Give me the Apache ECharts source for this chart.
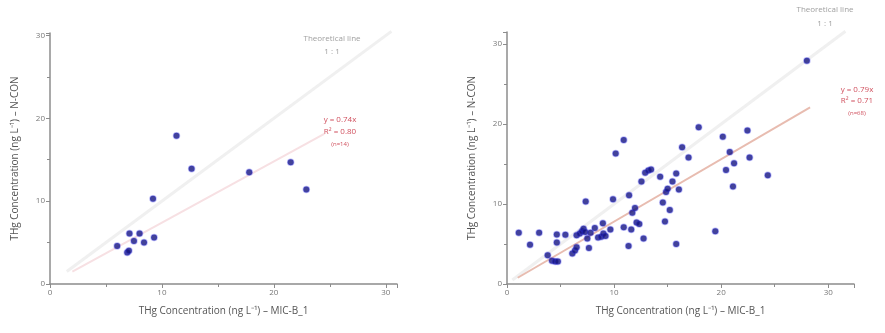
<!DOCTYPE html>
<html><head><meta charset="utf-8">
<script src="https://cdn.jsdelivr.net/npm/echarts@6/dist/echarts.min.js"></script>
<style>html,body{margin:0;padding:0;background:#fff}#c{width:885px;height:333px}</style>
</head><body><div id="c"></div>
<script>
var leftPoints = [[6.0,4.6],[6.9,3.8],[7.05,4.0],[7.1,6.1],[8.0,6.1],[7.5,5.2],[8.4,5.0],[9.3,5.6],[9.2,10.3],[11.3,17.9],[12.65,13.9],[17.8,13.5],[21.5,14.7],[22.9,11.4]];
var rightPoints = [[1.1,6.4],[2.15,4.9],[3.0,6.4],[3.8,3.6],[4.2,2.9],[4.5,2.8],[4.75,2.8],[4.65,6.2],[4.65,5.2],[5.45,6.15],[6.1,3.8],[6.35,4.2],[6.5,4.6],[6.5,6.1],[6.8,6.3],[7.0,6.6],[7.15,6.9],[7.3,6.5],[7.35,10.3],[7.5,5.7],[7.65,4.5],[7.8,6.4],[8.2,7.0],[8.5,5.8],[8.8,5.9],[8.95,7.6],[9.0,6.3],[9.2,6.0],[9.65,6.8],[9.9,10.6],[10.15,16.3],[10.9,18.0],[10.9,7.1],[11.35,4.75],[11.4,11.1],[11.6,6.8],[11.7,8.9],[11.95,9.5],[12.1,7.7],[12.35,7.5],[12.55,12.8],[12.75,5.7],[12.9,13.9],[13.2,14.2],[13.45,14.3],[14.3,13.4],[14.55,10.2],[14.75,7.8],[14.85,11.5],[15.0,11.9],[15.2,9.25],[15.45,12.8],[15.8,13.8],[15.8,5.0],[16.05,11.8],[16.35,17.1],[16.95,15.8],[17.9,19.6],[19.45,6.6],[20.15,18.4],[20.45,14.25],[20.8,16.5],[21.1,12.2],[21.2,15.1],[22.45,19.2],[22.65,15.8],[24.35,13.6],[28.0,27.9]];
var leftOneToOne = [[1.5,1.5],[30.5,30.5]];
var rightOneToOne = [[0.5,0.5],[31.6,31.6]];
var leftSlope = 0.74, leftFitRange = [2, 24.5];
var rightSlope = 0.78, rightFitRange = [1, 28.3];
var xTickLabels = ['0','10','20','30'];
var yTickLabels = ['0','10','20','30'];
var xName = 'THg Concentration (ng L\u207B\u00B9) \u2013 MIC-B_1';
var yName = 'THg Concentration (ng L\u207B\u00B9) \u2013 N-CON';
var leftText = ['y = 0.74x','R\u00B2 = 0.80','(n=14)'];
var rightText = ['y = 0.79x','R\u00B2 = 0.71','(n=68)'];
var theoText = ['Theoretical line','1 : 1'];

function fitLine(s, r){ return [[r[0], s*r[0]],[r[1], s*r[1]]]; }
var FONT = 'Open Sans';
var axisGray = '#8c8c8c';
function xAx(gi, max){
  return {type:'value', gridIndex:gi, min:0, max:max, interval:10,
    name:xName, nameLocation:'middle', nameGap:22,
    nameTextStyle:{color:'#555', fontSize:10, fontFamily:FONT},
    axisLine:{show:true, lineStyle:{color:axisGray, width:1.5}},
    axisTick:{show:true, length:4, lineStyle:{color:axisGray}},
    minorTick:{show:true, splitNumber:2, length:3, lineStyle:{color:axisGray}},
    splitLine:{show:false},
    axisLabel:{color:'#777', fontSize:8, fontFamily:FONT, margin:5, showMaxLabel:false,
      formatter:function(v){var i=v/10; return xTickLabels[i]!==undefined && v%10===0 ? xTickLabels[i] : '';}}};
}
function yAx(gi, max){
  return {type:'value', gridIndex:gi, min:0, max:max, interval:10,
    name:yName, nameLocation:'middle', nameGap:30,
    nameTextStyle:{color:'#555', fontSize:10, fontFamily:FONT},
    axisLine:{show:true, lineStyle:{color:axisGray, width:1.5}},
    axisTick:{show:true, length:4, lineStyle:{color:axisGray}},
    minorTick:{show:true, splitNumber:2, length:3, lineStyle:{color:axisGray}},
    splitLine:{show:false},
    axisLabel:{color:'#777', fontSize:8, fontFamily:FONT, margin:5, showMaxLabel:false,
      formatter:function(v){var i=v/10; return yTickLabels[i]!==undefined && v%10===0 ? yTickLabels[i] : '';}}};
}
function scatter(gi, data){
  return {type:'scatter', xAxisIndex:gi, yAxisIndex:gi, data:data, symbolSize:6, z:5,
    itemStyle:{color:'#14147e', borderColor:'rgba(50,50,230,0.4)', borderWidth:1.5}};
}
function line(gi, data, color, w){
  return {type:'line', xAxisIndex:gi, yAxisIndex:gi, data:data, symbol:'none', clip:false, z:2,
    lineStyle:{color:color, width:w}, silent:true};
}
var chart = echarts.init(document.getElementById('c'));
chart.setOption({
  animation:false,
  backgroundColor:'#fff',
  grid:[{left:50, top:33, width:347, height:251},{left:507, top:32, width:347, height:252}],
  xAxis:[xAx(0,31), xAx(1,32.4)],
  yAxis:[yAx(0,30.3), yAx(1,31.5)],
  series:[
    line(0, leftOneToOne, '#f0f0f0', 3),
    line(0, fitLine(leftSlope, leftFitRange), '#f7e0e3', 2),
    scatter(0, leftPoints),
    line(1, rightOneToOne, '#f0f0f0', 3),
    line(1, fitLine(rightSlope, rightFitRange), '#e8bcb0', 2),
    scatter(1, rightPoints)
  ],
  graphic:[
    {type:'text', x:332, y:39, style:{text:theoText[0], fill:'#a0a0a0', fontSize:8, fontFamily:FONT, align:'center', verticalAlign:'middle'}},
    {type:'text', x:332, y:52, style:{text:theoText[1], fill:'#a0a0a0', fontSize:8, fontFamily:FONT, align:'center', verticalAlign:'middle'}},
    {type:'text', x:340, y:120, style:{text:leftText[0], fill:'#d0505e', fontSize:8, fontFamily:FONT, align:'center', verticalAlign:'middle'}},
    {type:'text', x:340, y:132, style:{text:leftText[1], fill:'#d0505e', fontSize:8, fontFamily:FONT, align:'center', verticalAlign:'middle'}},
    {type:'text', x:340, y:144, style:{text:leftText[2], fill:'#d0505e', fontSize:6, fontFamily:FONT, align:'center', verticalAlign:'middle'}},
    {type:'text', x:825, y:10, style:{text:theoText[0], fill:'#a0a0a0', fontSize:8, fontFamily:FONT, align:'center', verticalAlign:'middle'}},
    {type:'text', x:825, y:24, style:{text:theoText[1], fill:'#a0a0a0', fontSize:8, fontFamily:FONT, align:'center', verticalAlign:'middle'}},
    {type:'text', x:857, y:90, style:{text:rightText[0], fill:'#d0505e', fontSize:8, fontFamily:FONT, align:'center', verticalAlign:'middle'}},
    {type:'text', x:857, y:101, style:{text:rightText[1], fill:'#d0505e', fontSize:8, fontFamily:FONT, align:'center', verticalAlign:'middle'}},
    {type:'text', x:857, y:113, style:{text:rightText[2], fill:'#d0505e', fontSize:6, fontFamily:FONT, align:'center', verticalAlign:'middle'}}
  ]
});
</script></body></html>
